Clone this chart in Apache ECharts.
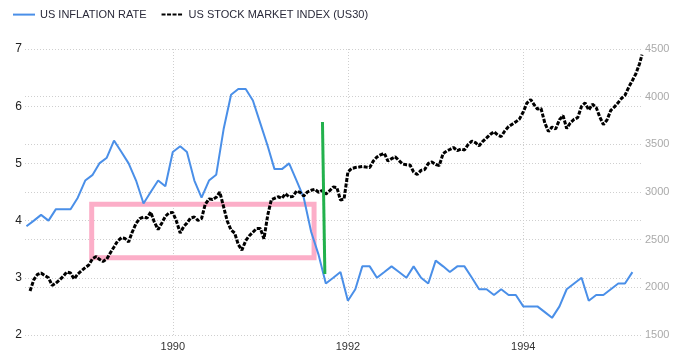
<!DOCTYPE html>
<html>
<head>
<meta charset="utf-8">
<script src="https://cdn.jsdelivr.net/npm/echarts@6/dist/echarts.min.js"></script>
<style>
html,body{margin:0;padding:0;background:#fff;}
#chart{width:686px;height:356px;}
</style>
</head>
<body>
<div id="chart"></div>
<script>
// ---- data ----
const seriesNames = ['US INFLATION RATE', 'US STOCK MARKET INDEX (US30)'];
const xTickYears = [1990, 1992, 1994];
const leftTicks = [2, 3, 4, 5, 6, 7];
const rightTicks = [1500, 2000, 2500, 3000, 3500, 4000, 4500];

// monthly inflation, May 1988 .. Apr 1995
const inflationStart = [1988, 5];
const inflationValues = [
  3.9, 4.0, 4.1, 4.0, 4.2, 4.2, 4.2, 4.4,
  4.7, 4.8, 5.0, 5.1, 5.4, 5.2, 5.0, 4.7, 4.3, 4.5, 4.7, 4.6,
  5.2, 5.3, 5.2, 4.7, 4.4, 4.7, 4.8, 5.6, 6.2, 6.3, 6.3, 6.1,
  5.7, 5.3, 4.9, 4.9, 5.0, 4.7, 4.4, 3.8, 3.4, 2.9, 3.0, 3.1,
  2.6, 2.8, 3.2, 3.2, 3.0, 3.1, 3.2, 3.1, 3.0, 3.2, 3.0, 2.9,
  3.3, 3.2, 3.1, 3.2, 3.2, 3.0, 2.8, 2.8, 2.7, 2.8, 2.7, 2.7,
  2.5, 2.5, 2.5, 2.4, 2.3, 2.5, 2.8, 2.9, 3.0, 2.6, 2.7, 2.7,
  2.8, 2.9, 2.9, 3.1
];

// stock index, read on the 1st and 16th of each month, from 16 May 1988
const stockValues = [
  1962, 2082, 2135, 2150, 2124, 2101, 2020, 2045, 2077, 2114, 2161, 2150, 2087, 2140, 2173,
  2206, 2234, 2302, 2323, 2294, 2271, 2297, 2363, 2423, 2486, 2520, 2512, 2476, 2580, 2670, 2720, 2738, 2727, 2790, 2685, 2607, 2672, 2744, 2780,
  2785, 2696, 2570, 2640, 2673, 2727, 2738, 2701, 2722, 2868, 2928, 2921, 2944, 3000, 2843, 2696, 2601, 2570, 2450, 2390, 2488, 2541, 2578, 2616,
  2617, 2510, 2759, 2920, 2934, 2950, 2935, 2982, 2948, 2953, 3011, 2995, 2958, 3000, 3018, 3028, 2997, 3016, 2979, 3011, 3053, 3047, 2916, 2927,
  3210, 3246, 3257, 3262, 3267, 3262, 3257, 3325, 3367, 3390, 3406, 3325, 3350, 3369, 3330, 3294, 3285, 3283, 3210, 3184, 3227, 3236, 3299, 3315,
  3288, 3278, 3404, 3430, 3446, 3467, 3435, 3451, 3441, 3498, 3535, 3517, 3485, 3530, 3567, 3603, 3632, 3598, 3582, 3640, 3686, 3711, 3736, 3765,
  3839, 3932, 3970, 3913, 3871, 3876, 3724, 3635, 3682, 3661, 3759, 3802, 3666, 3724, 3763, 3780, 3899, 3934, 3860, 3921, 3887, 3787, 3708, 3755,
  3857, 3892, 3939, 3986, 4014, 4096, 4170, 4243, 4348
];
const stockEnd = ['1995-05-11', 4440];

// annotations (drawn in data coordinates)
const boxCorners = [['1989-01-28', 2872], ['1991-08-13', 2310]];
const greenLine = [['1991-09-17', 3734], ['1991-09-27', 2140]];
const axisRange = ['1988-04-25', '1995-05-11'];

// ---- build ----
function ts(s) { const p = s.split('-').map(Number); return new Date(p[0], p[1] - 1, p[2]).getTime(); }
const inflationData = inflationValues.map((v, i) =>
  [new Date(inflationStart[0], inflationStart[1] - 1 + i, 1).getTime(), v]);
const stockData = stockValues.map((v, k) =>
  [new Date(1988, 4 + Math.ceil(k / 2), k % 2 === 0 ? 16 : 1).getTime(), v]);
stockData.push([ts(stockEnd[0]), stockEnd[1]]);
const xTickValues = xTickYears.map(y => new Date(y, 0, 1).getTime());

const font = 'Arial, "Liberation Sans", sans-serif';
const gridLine = { show: true, lineStyle: { color: '#cfcfcf', type: [1, 2], width: 1 } };

const chart = echarts.init(document.getElementById('chart'), null, { renderer: 'canvas' });
chart.setOption({
  animation: false,
  backgroundColor: '#fff',
  legend: {
    left: 7, top: 4, itemWidth: 22, itemHeight: 14, itemGap: 14,
    itemStyle: { opacity: 0 },
    textStyle: { fontSize: 11, color: '#2a2a3a', fontFamily: font },
    data: seriesNames
  },
  grid: { left: 25, right: 44, top: 49, bottom: 21, containLabel: false, outerBoundsMode: 'none' },
  xAxis: {
    type: 'value',
    min: ts(axisRange[0]), max: ts(axisRange[1]),
    axisLine: { show: false },
    axisTick: { show: false, customValues: xTickValues },
    axisLabel: {
      customValues: xTickValues,
      formatter: v => String(new Date(v).getFullYear()),
      color: '#333', fontSize: 11, fontFamily: font, margin: 6
    },
    splitLine: gridLine
  },
  yAxis: [{
    type: 'value', position: 'left',
    min: leftTicks[0], max: leftTicks[leftTicks.length - 1], interval: 1,
    axisLine: { show: false }, axisTick: { show: false },
    axisLabel: { color: '#222', fontSize: 12, fontFamily: font, margin: 3 },
    splitLine: gridLine
  }, {
    type: 'value', position: 'right',
    min: rightTicks[0], max: rightTicks[rightTicks.length - 1], interval: 500,
    axisLine: { show: false }, axisTick: { show: false },
    axisLabel: { color: '#aaaaaa', fontSize: 11, fontFamily: font, margin: 3, formatter: v => String(v) },
    splitLine: gridLine
  }],
  series: [{
    name: seriesNames[0], type: 'line', yAxisIndex: 0,
    data: inflationData, symbol: 'none', z: 3,
    lineStyle: { color: '#4a8fe8', width: 2 },
    itemStyle: { color: '#4a8fe8' }
  }, {
    name: seriesNames[1], type: 'line', yAxisIndex: 1,
    data: stockData, symbol: 'none', z: 4,
    lineStyle: { color: '#000', width: 3, type: [4, 1.5] },
    itemStyle: { color: '#000' },
    markArea: {
      silent: true,
      itemStyle: { color: 'rgba(0,0,0,0)', borderColor: '#fcaec8', borderWidth: 5 },
      data: [[
        { coord: [ts(boxCorners[0][0]), boxCorners[0][1]] },
        { coord: [ts(boxCorners[1][0]), boxCorners[1][1]] }
      ]]
    },
    markLine: {
      silent: true, symbol: 'none', label: { show: false },
      lineStyle: { color: '#22b14c', width: 3, type: 'solid' },
      data: [[
        { coord: [ts(greenLine[0][0]), greenLine[0][1]] },
        { coord: [ts(greenLine[1][0]), greenLine[1][1]] }
      ]]
    }
  }]
});
</script>
</body>
</html>
